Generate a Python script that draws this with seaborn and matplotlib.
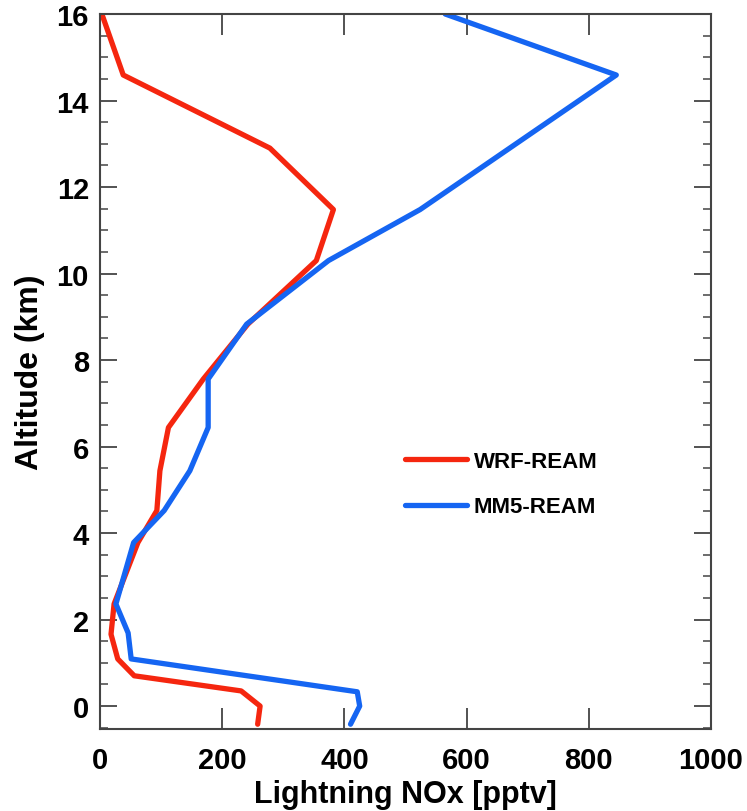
import matplotlib
matplotlib.use("Agg")
import matplotlib.pyplot as plt
import seaborn as sns
import pandas as pd
from matplotlib.ticker import MultipleLocator

# ---- data ----
wrf_alt = [16, 14.59, 12.9, 11.48, 10.3, 8.83, 7.56, 6.44, 5.44, 4.52, 3.78, 2.36, 1.66, 1.09, 0.70, 0.35, 0.0, -0.42]
wrf_nox = [3, 38, 278, 382, 354, 242, 169, 112, 98, 93, 62, 23, 18, 29, 56, 231, 262, 258]

mm5_alt = [16, 14.59, 11.48, 10.3, 8.83, 7.56, 6.44, 5.44, 4.52, 3.78, 2.36, 1.69, 1.09, 0.33, 0.0, -0.42]
mm5_nox = [565, 845, 524, 374, 240, 177, 177, 147, 105, 55, 26, 46, 51, 421, 425, 410]

series_names = ["WRF-REAM", "MM5-REAM"]
series_colors = ["#F5260F", "#1565F2"]
x_ticks = [0, 200, 400, 600, 800, 1000]
y_ticks = [0, 2, 4, 6, 8, 10, 12, 14, 16]

df = pd.concat([
    pd.DataFrame({"nox": wrf_nox, "alt": wrf_alt, "model": series_names[0]}),
    pd.DataFrame({"nox": mm5_nox, "alt": mm5_alt, "model": series_names[1]}),
], ignore_index=True)

sns.set_style("ticks")
plt.rcParams["font.family"] = ["Liberation Sans", "DejaVu Sans"]
plt.rcParams["font.weight"] = "bold"
plt.rcParams["text.color"] = "black"
plt.rcParams["axes.labelcolor"] = "black"
plt.rcParams["xtick.labelcolor"] = "black"
plt.rcParams["ytick.labelcolor"] = "black"

fig = plt.figure(figsize=(7.47, 8.12), dpi=100)
ax = fig.add_axes([0.1339, 0.1010, 0.8179, 0.8805])

sns.lineplot(data=df, x="nox", y="alt", hue="model", palette=dict(zip(series_names, series_colors)),
             sort=False, estimator=None, linewidth=3.8, ax=ax)

ax.set_xlim(0, 1000)
ax.set_ylim(-0.53, 16)
ax.set_xticks(x_ticks)
ax.set_yticks(y_ticks)
ax.yaxis.set_minor_locator(MultipleLocator(0.5))

ax.tick_params(axis="x", which="major", direction="in", length=15, width=1.3,
               top=True, bottom=True, labelsize=21, pad=12, color="#444444", labelcolor="black")
ax.tick_params(axis="y", which="major", direction="in", length=12, width=1.3,
               left=True, right=True, labelsize=21, pad=8, color="#444444", labelcolor="black")
ax.tick_params(axis="y", which="minor", direction="in", length=6, width=1.1,
               left=True, right=True, color="#444444")
for lab in ax.get_xticklabels() + ax.get_yticklabels():
    lab.set_fontweight("bold")

for sp in ax.spines.values():
    sp.set_linewidth(1.5)
    sp.set_color("#444444")

ax.set_xlabel("Lightning NOx [pptv]", fontsize=22, fontweight="bold", labelpad=4, color="black")
ax.set_ylabel("Altitude (km)", fontsize=23, fontweight="bold", labelpad=8, color="black")

leg = ax.legend(loc="upper left", bbox_to_anchor=(0.499, 0.389), frameon=False,
                fontsize=16, handlelength=2.8, handletextpad=0.3, labelspacing=1.1,
                borderpad=0, borderaxespad=0)
for t in leg.get_texts():
    t.set_fontweight("bold")
    t.set_color("black")
for h in leg.get_lines():
    h.set_linewidth(3.8)

fig.savefig("out.png", dpi=100)
